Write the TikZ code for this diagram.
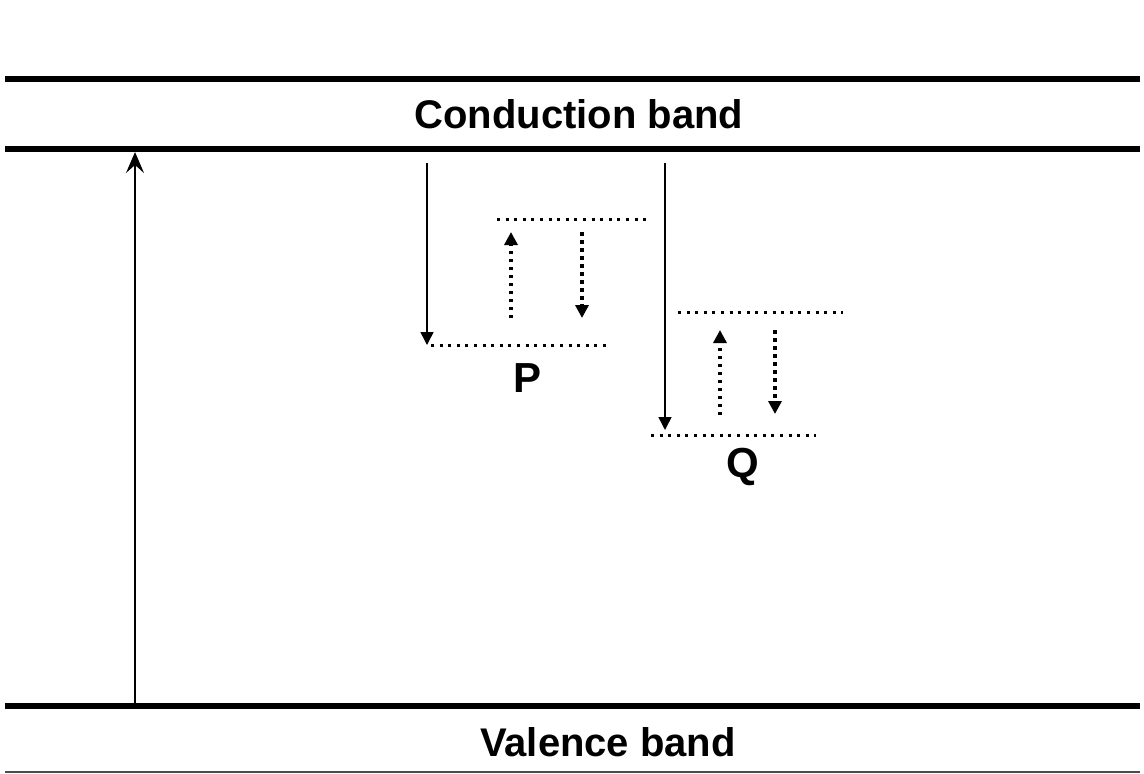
\documentclass[tikz,border=0pt]{standalone}
\usepackage{fontspec}
\setmainfont{Liberation Sans}
\usetikzlibrary{arrows.meta}
\begin{document}
\begin{tikzpicture}[x=1pt,y=-1pt,
  band/.style={line width=6.5pt},
  lvl/.style={line width=3pt, dash pattern=on 3pt off 5.6pt},
  dotarrow/.style={line width=3.5pt, dash pattern=on 3.5pt off 4.5pt, -{Triangle[length=13pt,width=13pt]}},
  solarrow/.style={line width=1.5pt, -{Triangle[length=13pt,width=13pt]}},
  pumparrow/.style={line width=1.5pt, -{Stealth[length=21pt,width=18pt,inset=8pt]}},
  bandlbl/.style={font=\bfseries\fontsize{40}{40}\selectfont, inner sep=0pt},
  lvllbl/.style={font=\bfseries\fontsize{42}{42}\selectfont, inner sep=0pt}]
\useasboundingbox (0,0) rectangle (1144,774);
% bands
\coordinate (t1) at (5,79); \coordinate (t2) at (1140,79);
\coordinate (c1) at (5,149); \coordinate (c2) at (1140,149);
\coordinate (v1) at (5,706); \coordinate (v2) at (1140,706);
\coordinate (b1) at (5,772); \coordinate (b2) at (1140,772);
\draw[band] (t1) -- (t2);
\draw[band] (c1) -- (c2);
\draw[band] (v1) -- (v2);
\draw[line width=1.5pt, black!70] (b1) -- (b2);
\node[bandlbl] (cb) at (579,114) {Conduction band};
\node[bandlbl] (vb) at (608,742) {Valence band};
% pump arrow
\coordinate (pa) at (135,703);
\coordinate (pb) at (135,152);
\draw[pumparrow] (pa) -- (pb);
% P centre
\coordinate (pd0) at (427,163); \coordinate (pd1) at (427,345);
\draw[solarrow] (pd0) -- (pd1);
\coordinate (pl1) at (431,345); \coordinate (pl2) at (608,345);
\draw[lvl] (pl1) -- (pl2);
\coordinate (pu1) at (497,219); \coordinate (pu2) at (648,219);
\draw[lvl] (pu1) -- (pu2);
\coordinate (pa1) at (511,318); \coordinate (pa2) at (511,232);
\draw[dotarrow] (pa1) -- (pa2);
\coordinate (pe1) at (582,232); \coordinate (pe2) at (582,318);
\draw[dotarrow] (pe1) -- (pe2);
\node[lvllbl] (P) at (528,378) {P};
% Q centre
\coordinate (qd0) at (665,163); \coordinate (qd1) at (665,430);
\draw[solarrow] (qd0) -- (qd1);
\coordinate (ql1) at (651,435); \coordinate (ql2) at (816,435);
\draw[lvl] (ql1) -- (ql2);
\coordinate (qu1) at (678,312); \coordinate (qu2) at (843,312);
\draw[lvl] (qu1) -- (qu2);
\coordinate (qa1) at (720,415); \coordinate (qa2) at (720,330);
\draw[dotarrow] (qa1) -- (qa2);
\coordinate (qe1) at (775,330); \coordinate (qe2) at (775,414);
\draw[dotarrow] (qe1) -- (qe2);
\node[lvllbl] (Q) at (743,467) {Q};
\end{tikzpicture}
\end{document}
